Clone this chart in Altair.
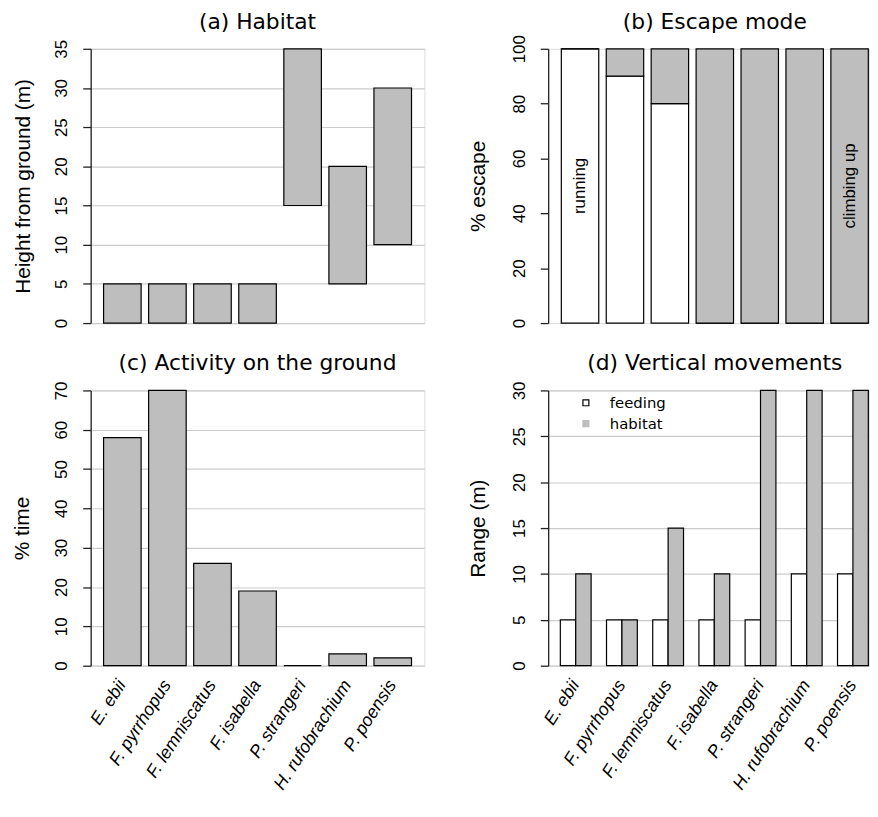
import altair as alt
import pandas as pd

# ---------------- data ----------------
species = ["E. ebii", "F. pyrrhopus", "F. lemniscatus", "F. isabella",
           "P. strangeri", "H. rufobrachium", "P. poensis"]

hab_low = [0, 0, 0, 0, 15, 5, 10]
hab_high = [5, 5, 5, 5, 35, 20, 30]

esc_modes = ["running", "climbing up"]
esc_running = [100, 90, 80, 0, 0, 0, 0]
esc_climbing = [0, 10, 20, 100, 100, 100, 100]
esc_note_species = ["E. ebii", "P. poensis"]
esc_note_text = ["running", "climbing up"]
esc_note_value = [50, 50]

ground_pct = [58, 70, 26, 19, 0, 3, 2]

vm_series = ["feeding", "habitat"]
vm_feeding = [5, 5, 5, 5, 5, 10, 10]
vm_habitat = [10, 5, 15, 10, 30, 30, 30]

ticks_a = [0, 5, 10, 15, 20, 25, 30, 35]
ticks_b = [0, 20, 40, 60, 80, 100]
ticks_c = [0, 10, 20, 30, 40, 50, 60, 70]
ticks_d = [0, 5, 10, 15, 20, 25, 30]

df_a = pd.DataFrame({"species": species, "low": hab_low, "high": hab_high})
df_b = pd.DataFrame({
    "species": species * 2,
    "mode": [esc_modes[0]] * 7 + [esc_modes[1]] * 7,
    "order": [0] * 7 + [1] * 7,
    "value": esc_running + esc_climbing,
})
df_b_note = pd.DataFrame({"species": esc_note_species, "label": esc_note_text,
                          "value": esc_note_value})
df_c = pd.DataFrame({"species": species, "value": ground_pct})
df_d = pd.DataFrame({
    "species": species * 2,
    "series": [vm_series[0]] * 7 + [vm_series[1]] * 7,
    "value": vm_feeding + vm_habitat,
})

# ---------------- style ----------------
FONT = "Liberation Sans"
TFONT = "DejaVu Sans"
GREY = "#bebebe"
INK = "#222222"


def y_axis(values, title, title_x, grid=True):
    return alt.Axis(
        values=values, title=title, grid=grid, gridColor="#cccccc", gridWidth=1.2,
        domainColor=INK, domainWidth=1.3, ticks=True, tickColor=INK, tickWidth=1.3,
        tickSize=8, labelAngle=270, labelAlign="center", labelBaseline="middle",
        labelPadding=21, labelFont=FONT, labelFontSize=17, labelColor="black",
        labelFlush=False, labelOverlap=False,
        titleFont=FONT, titleFontSize=21, titleFontWeight="normal", titleColor="black",
        titleAngle=270, titleX=title_x, titleBaseline="middle", titleAlign="center",
    )


x_axis = alt.Axis(
    title=None, domain=False, ticks=False, tickSize=0, grid=False,
    labelAngle=303, labelAlign="right", labelBaseline="middle", labelPadding=16,
    labelFont=FONT, labelFontStyle="italic", labelFontSize=18, labelColor="black",
    labelOverlap=False, labelLimit=300, labelFlush=False,
)


def ttl(text, offset, dx=0):
    return alt.TitleParams(text=text, font=TFONT, fontSize=22, fontWeight="normal",
                           color="black", anchor="middle", frame="group",
                           baseline="alphabetic", offset=offset, dx=dx)


x_left = alt.Scale(domain=species, paddingInner=0.1667, paddingOuter=0.286)
x_right = alt.Scale(domain=species, paddingInner=0.1667, paddingOuter=0.154, align=0.95)
x_group = alt.Scale(domain=species, paddingInner=0.3333, paddingOuter=0.139, align=0.946)

# ---------------- (a) ----------------
a = alt.Chart(df_a).mark_bar(fill=GREY, stroke="black", strokeWidth=1.2).encode(
    x=alt.X("species:N", scale=x_left, axis=None),
    y=alt.Y("low:Q", scale=alt.Scale(domain=[0, 35], nice=False),
            axis=y_axis(ticks_a, "Height from ground (m)", -68)),
    y2="high:Q",
).properties(width=337, height=277, title=ttl("(a) Habitat", -11.8))

# ---------------- (b) ----------------
axis_b = y_axis(ticks_b, "% escape", -70, grid=False)
b_bars = alt.Chart(df_b).mark_bar(stroke="black", strokeWidth=1.2).encode(
    x=alt.X("species:N", scale=x_right, axis=None),
    y=alt.Y("value:Q", stack="zero", scale=alt.Scale(domain=[0, 100], nice=False),
            axis=axis_b),
    fill=alt.Fill("mode:N", scale=alt.Scale(domain=esc_modes, range=["white", GREY]),
                  legend=None),
    order=alt.Order("order:Q"),
)
b_text = alt.Chart(df_b_note).mark_text(
    angle=270, align="center", baseline="middle", font=FONT, fontSize=17, color="black"
).encode(
    x=alt.X("species:N", scale=x_right, axis=None),
    y=alt.Y("value:Q", stack=None, axis=axis_b),
    text="label:N",
)
b = alt.layer(b_bars, b_text).properties(
    width=324, height=277, title=ttl("(b) Escape mode", -16.5, dx=6.3))

# ---------------- (c) ----------------
c = alt.Chart(df_c).mark_bar(fill=GREY, stroke="black", strokeWidth=1.2).encode(
    x=alt.X("species:N", scale=x_left, axis=x_axis),
    y=alt.Y("value:Q", scale=alt.Scale(domain=[0, 70], nice=False),
            axis=y_axis(ticks_c, "% time", -68.3)),
).properties(width=337, height=278, title=ttl("(c) Activity on the ground", -11.2))

# ---------------- (d) ----------------
d_bars = alt.Chart(df_d).mark_bar(stroke="black", strokeWidth=1.2).encode(
    x=alt.X("species:N", scale=x_group, axis=x_axis),
    xOffset=alt.XOffset("series:N", scale=alt.Scale(domain=vm_series)),
    y=alt.Y("value:Q", stack=None, scale=alt.Scale(domain=[0, 30], nice=False),
            axis=y_axis(ticks_d, "Range (m)", -70)),
    fill=alt.condition(alt.datum.series == vm_series[0], alt.value("white"),
                       alt.value(GREY)),
)

key_legend = alt.Legend(
    title=None, orient="none", legendX=30.6, legendY=5, symbolType="square",
    symbolSize=36, symbolStrokeWidth=1.2, labelFont=TFONT, labelFontSize=15,
    labelColor="black", labelOffset=16.7, rowPadding=5, padding=0,
)
d_key = alt.Chart(df_d).transform_filter("datum.value < 0").mark_square(
    size=36, strokeWidth=1.2, opacity=1
).encode(
    fill=alt.Fill("series:N", scale=alt.Scale(domain=vm_series, range=["white", GREY]),
                  legend=key_legend),
    stroke=alt.Stroke("series:N", scale=alt.Scale(domain=vm_series, range=["black", GREY]),
                      legend=key_legend),
)
d = alt.layer(d_bars, d_key).properties(
    width=324, height=278, title=ttl("(d) Vertical movements", -11.2, dx=6.3))

# ---------------- layout ----------------
chart = alt.concat(a, b, c, d, columns=2, spacing={"row": 68, "column": 125},
                   bounds="flush").resolve_scale(
    fill="independent", stroke="independent"
).resolve_legend(
    fill="independent", stroke="independent"
).properties(
    padding={"left": 3.5, "top": -1.7, "right": 0, "bottom": 0},
    background="white",
).configure_view(stroke=None).configure(font=FONT)

chart.save("out.html", embed_options={"renderer": "svg", "actions": False})
